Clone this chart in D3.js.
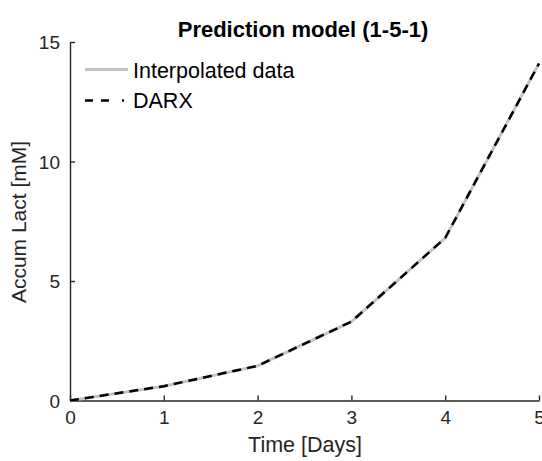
<!DOCTYPE html>
<html>
<head>
<meta charset="utf-8">
<script src="https://cdn.jsdelivr.net/npm/d3@7"></script>
<style>
  body { margin: 0; background: #fff; }
  svg { display: block; font-family: "Liberation Sans", Arial, Helvetica, sans-serif; }
</style>
</head>
<body>
<svg id="chart" width="542" height="461"></svg>
<script>
const days = [0, 1, 2, 3, 4, 5];
const interpolated = [0, 0.6, 1.45, 3.3, 6.8, 14.1];
const darx = [0, 0.6, 1.45, 3.3, 6.8, 14.1];
const xTicks = [0, 1, 2, 3, 4, 5];
const yTicks = [0, 5, 10, 15];
const titleText = "Prediction model (1-5-1)";
const xLabel = "Time [Days]";
const yLabel = "Accum Lact [mM]";
const legendLabels = ["Interpolated data", "DARX"];

const svg = d3.select("#chart");
const axisColor = "#262626";
const x = d3.scaleLinear().domain([0, 5]).range([70, 539]);
const y = d3.scaleLinear().domain([0, 15]).range([400.5, 42]);

// Axes
const xAxis = d3.axisBottom(x).tickValues(xTicks).tickSize(-5).tickPadding(10).tickSizeOuter(0).tickFormat(d3.format("d"));
const yAxis = d3.axisLeft(y).tickValues(yTicks).tickSize(-5).tickPadding(10).tickSizeOuter(0).tickFormat(d3.format("d"));

const gx = svg.append("g").attr("transform", `translate(0,${y(0)})`).call(xAxis);
const gy = svg.append("g").attr("transform", `translate(${x(0)},0)`).call(yAxis);
[gx, gy].forEach(g => {
  g.select(".domain").attr("stroke", axisColor).attr("stroke-width", 1.4);
  g.selectAll(".tick line").attr("stroke", axisColor).attr("stroke-width", 1.4);
  g.selectAll(".tick text").attr("fill", axisColor).style("font-size", "19px")
    .style("font-family", '"Liberation Sans", Arial, sans-serif');
});
gx.selectAll(".tick text").attr("dy", "0.71em");
gy.selectAll(".tick text").attr("dy", "0.35em");

// Lines
const line = d3.line().x((d, i) => x(days[i])).y(d => y(d));
svg.append("path").datum(interpolated).attr("d", line)
  .attr("fill", "none").attr("stroke", "#c4c4c4").attr("stroke-width", 3);
svg.append("path").datum(darx).attr("d", line)
  .attr("fill", "none").attr("stroke", "#000").attr("stroke-width", 2.5)
  .attr("stroke-dasharray", "9,6");

// Title & labels
svg.append("text").attr("x", 303).attr("y", 37).attr("text-anchor", "middle")
  .style("font-size", "22px").style("font-weight", "bold").attr("fill", "#000").text(titleText);
svg.append("text").attr("x", 305).attr("y", 452).attr("text-anchor", "middle")
  .style("font-size", "21.5px").attr("fill", axisColor).text(xLabel);
svg.append("text").attr("transform", "translate(26,222) rotate(-90)").attr("text-anchor", "middle")
  .style("font-size", "21px").attr("fill", axisColor).text(yLabel);

// Legend
const lg = svg.append("g");
lg.append("line").attr("x1", 85).attr("x2", 128).attr("y1", 69.5).attr("y2", 69.5)
  .attr("stroke", "#c4c4c4").attr("stroke-width", 3);
lg.append("text").attr("x", 133).attr("y", 78).style("font-size", "21.5px").attr("fill", "#000").text(legendLabels[0]);
lg.append("line").attr("x1", 85).attr("x2", 124).attr("y1", 100.5).attr("y2", 100.5)
  .attr("stroke", "#000").attr("stroke-width", 2.5).attr("stroke-dasharray", "8,8,8,13,2");
lg.append("text").attr("x", 133).attr("y", 108).style("font-size", "21.5px").attr("fill", "#000").text(legendLabels[1]);
</script>
</body>
</html>
